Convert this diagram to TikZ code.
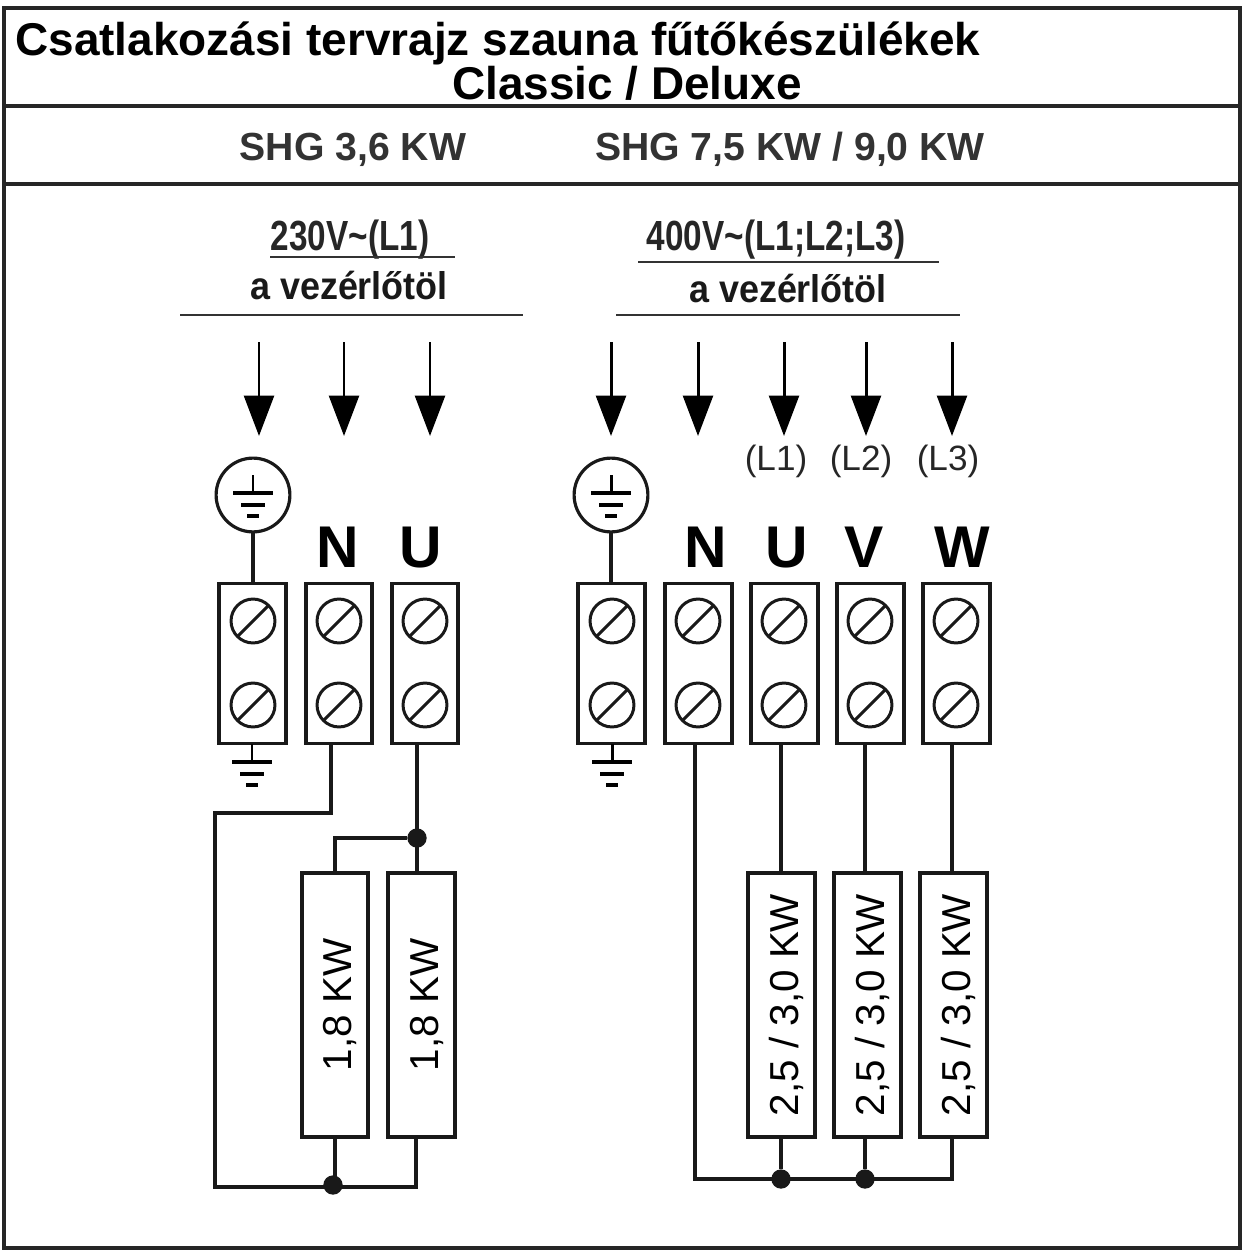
\documentclass[tikz,border=0pt]{standalone}
\usepackage{fontspec}
\setmainfont{Liberation Sans}
\usetikzlibrary{arrows.meta}

\tikzset{
  rule/.style={line width=1.6pt,draw=black!80},
  wire/.style={line width=2.1pt,draw=black!90},
  flow/.style={line width=1.7pt,draw=black,-{Triangle[width=17pt,length=23pt]}},
  terminal/.style={rectangle,draw=black!90,line width=2.2pt,minimum width=38pt,minimum height=91pt,inner sep=0pt},
  heater/.style={rectangle,draw=black!90,line width=2.2pt,minimum width=150pt,minimum height=38pt,inner sep=0pt,rotate=90,text height=22pt,text depth=3pt,font=\fontsize{23}{23}\selectfont},
  screw/.style={circle,draw=black!90,line width=1.7pt,minimum size=25pt,inner sep=0pt,
    path picture={\draw[line width=1.7pt] (path picture bounding box.south west) -- (path picture bounding box.north east);}},
  joint/.style={circle,fill=black!90,minimum size=11pt,inner sep=0pt},
  pole/.style={font=\fontsize{33.5}{33.5}\selectfont\bfseries,anchor=base,inner sep=0pt},
  phase/.style={font=\fontsize{20}{20}\selectfont,anchor=base,inner sep=0pt,text=black!85},
  head/.style={font=\fontsize{22.3}{22.3}\selectfont\bfseries,anchor=base,inner sep=0pt,text=black!80},
  titletext/.style={font=\fontsize{26.15}{26.15}\selectfont\bfseries,inner sep=0pt},
  feed/.style={font=\fontsize{24}{24}\selectfont\bfseries,anchor=base,inner sep=0pt,text=black!85,xscale=.79,transform shape},
  source/.style={font=\fontsize{22}{22}\selectfont\bfseries,anchor=base,inner sep=0pt,text=black!90,xscale=.93,transform shape},
  earthring/.style={circle,draw=black!90,line width=1.8pt,minimum size=42pt,inner sep=0pt},
  earthmark/.pic={
    \draw[line width=1.7pt] (0,0) -- (0,18);
    \draw[line width=1.8pt] (-20,18) -- (20,18);
    \draw[line width=1.8pt] (-12,30) -- (12,30);
    \draw[line width=1.8pt] (-6,41) -- (6,41);
  }
}

\begin{document}
\begin{tikzpicture}[x=0.02cm,y=-0.02cm]
   \useasboundingbox (0,0) rectangle (1243,1251);
   % frame
   \draw[line width=2.4pt,draw=black!85] (4,8) rectangle (1240,1248);
   \draw[line width=2.4pt,draw=black!85] (4,106) -- (1240,106);
   \draw[line width=2.4pt,draw=black!85] (4,184) -- (1240,184);

   % titles
   \node[titletext,anchor=base west] (title) at (15,55) {Csatlakozási tervrajz szauna fűtőkészülékek};
   \node[titletext,anchor=base] (model) at (627,99) {Classic / Deluxe};
   \node[head] (shgl) at (353,160) {SHG 3,6 KW};
   \node[head] (shgr) at (790,160) {SHG 7,5 KW / 9,0 KW};
   \node[feed] (voltl) at (350,250) {230V\textasciitilde(L1)};
   \node[feed] (voltr) at (776,250) {400V\textasciitilde(L1;L2;L3)};
   \node[source] (froml) at (349,299) {a vezérlőtöl};
   \node[source] (fromr) at (788,302) {a vezérlőtöl};
   \draw[rule] (270,257) -- (455,257);
   \draw[rule] (180,315) -- (523,315);
   \draw[rule] (638,262) -- (939,262);
   \draw[rule] (616,315) -- (960,315);

   % terminals
   \begin{scope}[every node/.style={terminal}]
    \node (tel) at (252.5,663.5) {};
    \node (tnl) at (339,663.5) {};
    \node (tul) at (425,663.5) {};
    \node (ter) at (611.5,663.5) {};
    \node (tnr) at (698.5,663.5) {};
    \node (tur) at (784.5,663.5) {};
    \node (tvr) at (870.5,663.5) {};
    \node (twr) at (956.5,663.5) {};
   \end{scope}
   \begin{scope}[every node/.style={screw}]
    \node (s1) at (253,621) {};
    \node (s2) at (253,705) {};
    \node (s3) at (339,621) {};
    \node (s4) at (339,705) {};
    \node (s5) at (425,621) {};
    \node (s6) at (425,705) {};
    \node (s7) at (612,621) {};
    \node (s8) at (612,705) {};
    \node (s9) at (698,621) {};
    \node (s10) at (698,705) {};
    \node (s11) at (784,621) {};
    \node (s12) at (784,705) {};
    \node (s13) at (870,621) {};
    \node (s14) at (870,705) {};
    \node (s15) at (956,621) {};
    \node (s16) at (956,705) {};
   \end{scope}

   % heaters
   \node[heater] (h1) at (335,1005) {1,8 KW};
   \node[heater] (h2) at (421.5,1005) {1,8 KW};
   \node[heater] (h3) at (781.5,1005) {2,5 / 3,0 KW};
   \node[heater] (h4) at (867.5,1005) {2,5 / 3,0 KW};
   \node[heater] (h5) at (953.5,1005) {2,5 / 3,0 KW};

   % earth
   \node[earthring] (gl) at (253,495) {};
   \node[earthring] (gr) at (611,495) {};
   \pic at (253,475) {earthmark};
   \pic at (611,475) {earthmark};
   \pic at (252,744) {earthmark};
   \pic at (612,744) {earthmark};
   \draw[wire] (gl) -- (gl |- tel.north);
   \draw[wire] (gr) -- (gr |- ter.north);

   % letters
   \node[pole] (ln) at (338,567) {N};
   \node[pole] (lu) at (421,567) {U};
   \node[pole] (rn) at (706,567) {N};
   \node[pole] (ru) at (787,567) {U};
   \node[pole] (rv) at (864,567) {V};
   \node[pole] (rw) at (962,567) {W};
   \node[phase] (p1) at (776,470) {(L1)};
   \node[phase] (p2) at (861,470) {(L2)};
   \node[phase] (p3) at (948,470) {(L3)};

   % arrows
   \coordinate (a1) at (259,342);
   \coordinate (b1) at (259,436);
   \coordinate (a2) at (344,342);
   \coordinate (b2) at (344,436);
   \coordinate (a3) at (430,342);
   \coordinate (b3) at (430,436);
   \coordinate (a4) at (611,342);
   \coordinate (b4) at (611,436);
   \coordinate (a5) at (698,342);
   \coordinate (b5) at (698,436);
   \coordinate (a6) at (784,342);
   \coordinate (b6) at (784,436);
   \coordinate (a7) at (866,342);
   \coordinate (b7) at (866,436);
   \coordinate (a8) at (952,342);
   \coordinate (b8) at (952,436);
   \draw[flow] (a1) -- (b1);
   \draw[flow] (a2) -- (b2);
   \draw[flow] (a3) -- (b3);
   \draw[flow] (a4) -- (b4);
   \draw[flow] (a5) -- (b5);
   \draw[flow] (a6) -- (b6);
   \draw[flow] (a7) -- (b7);
   \draw[flow] (a8) -- (b8);

   % wiring left
   \node[joint] (j1) at (417,838) {};
   \node[joint] (j2) at (333,1185) {};
   \coordinate (c1) at (331,813);
   \coordinate (c2) at (215,813);
   \coordinate (c3) at (215,1187);
   \coordinate (c4) at (416,1187);
   \coordinate (c5) at (335,838);
   \draw[wire] (c1 |- tnl.south) -- (c1) -- (c2) -- (c3) -- (c4) -- (c4 |- h2.west);
   \draw[wire] (j1 |- tul.south) -- (j1 |- h2.east);
   \draw[wire] (j1) -- (c5) -- (h1.east);
   \draw[wire] (h1.west) -- (c5 |- c3);

   % wiring right
   \node[joint] (j3) at (781,1179) {};
   \node[joint] (j4) at (865,1179) {};
   \coordinate (d1) at (695,1179);
   \coordinate (d2) at (952,1179);
   \draw[wire] (d1 |- tnr.south) -- (d1) -- (d2) -- (d2 |- h5.west);
   \draw[wire] (j3 |- h3.west) -- (j3);
   \draw[wire] (j4 |- h4.west) -- (j4);
   \draw[wire] (j3 |- tur.south) -- (j3 |- h3.east);
   \draw[wire] (j4 |- tvr.south) -- (j4 |- h4.east);
   \draw[wire] (d2 |- twr.south) -- (d2 |- h5.east);
\end{tikzpicture}
\end{document}
